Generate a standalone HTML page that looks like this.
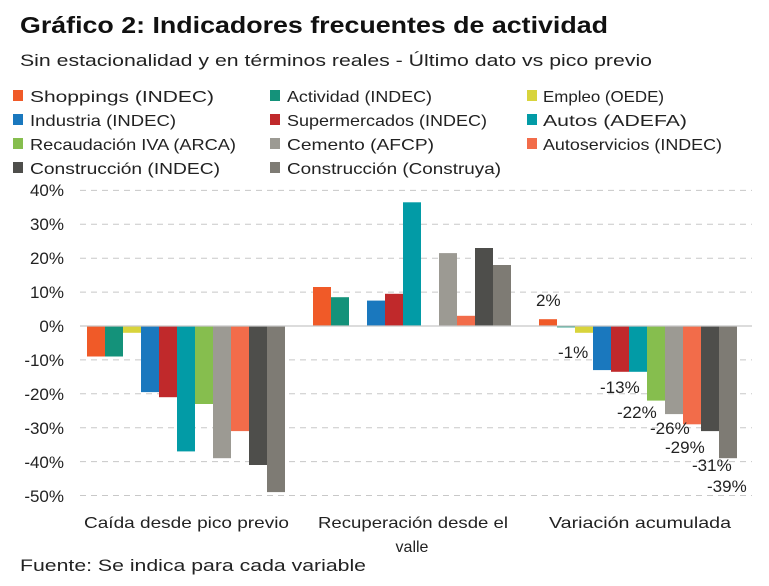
<!DOCTYPE html><html><head><meta charset="utf-8"><style>body{margin:0;background:#fff}svg{display:block;font-family:"Liberation Sans",sans-serif}</style></head><body>
<svg width="769" height="586" viewBox="0 0 769 586">
<text x="20" y="33" font-size="23" font-weight="bold" fill="#111" textLength="588" lengthAdjust="spacingAndGlyphs">Gráfico 2: Indicadores frecuentes de actividad</text>
<text x="20" y="66" font-size="17" fill="#222" textLength="632" lengthAdjust="spacingAndGlyphs">Sin estacionalidad y en términos reales - Último dato vs pico previo</text>
<g font-size="16" fill="#222">
<rect x="13" y="90" width="10" height="11" fill="#f05a28"/><text x="30" y="102" textLength="184" lengthAdjust="spacingAndGlyphs">Shoppings (INDEC)</text>
<rect x="270" y="90" width="10" height="11" fill="#14927a"/><text x="287" y="102" textLength="145" lengthAdjust="spacingAndGlyphs">Actividad (INDEC)</text>
<rect x="527" y="90" width="10" height="11" fill="#d8d43c"/><text x="543" y="102" textLength="121" lengthAdjust="spacingAndGlyphs">Empleo (OEDE)</text>
<rect x="13" y="114" width="10" height="11" fill="#1a78be"/><text x="30" y="126" textLength="146" lengthAdjust="spacingAndGlyphs">Industria (INDEC)</text>
<rect x="270" y="114" width="10" height="11" fill="#c0292b"/><text x="287" y="126" textLength="200" lengthAdjust="spacingAndGlyphs">Supermercados (INDEC)</text>
<rect x="527" y="114" width="10" height="11" fill="#029ba6"/><text x="543" y="126" textLength="144" lengthAdjust="spacingAndGlyphs">Autos (ADEFA)</text>
<rect x="13" y="138" width="10" height="11" fill="#86be4e"/><text x="30" y="150" textLength="206" lengthAdjust="spacingAndGlyphs">Recaudación IVA (ARCA)</text>
<rect x="270" y="138" width="10" height="11" fill="#9c9a93"/><text x="287" y="150" textLength="147" lengthAdjust="spacingAndGlyphs">Cemento (AFCP)</text>
<rect x="527" y="138" width="10" height="11" fill="#f26c4a"/><text x="543" y="150" textLength="179" lengthAdjust="spacingAndGlyphs">Autoservicios (INDEC)</text>
<rect x="13" y="162" width="10" height="11" fill="#4e4e4b"/><text x="30" y="174" textLength="190" lengthAdjust="spacingAndGlyphs">Construcción (INDEC)</text>
<rect x="270" y="162" width="10" height="11" fill="#7e7b74"/><text x="287" y="174" textLength="214" lengthAdjust="spacingAndGlyphs">Construcción (Construya)</text>
</g>
<g stroke="#c8c8c8" stroke-dasharray="6,5" stroke-width="1">
<line x1="80" x2="752" y1="190.4" y2="190.4"/><line x1="80" x2="752" y1="224.3" y2="224.3"/><line x1="80" x2="752" y1="258.2" y2="258.2"/><line x1="80" x2="752" y1="292.1" y2="292.1"/><line x1="80" x2="752" y1="359.9" y2="359.9"/><line x1="80" x2="752" y1="393.8" y2="393.8"/><line x1="80" x2="752" y1="427.7" y2="427.7"/><line x1="80" x2="752" y1="461.6" y2="461.6"/><line x1="80" x2="752" y1="495.5" y2="495.5"/>
</g>
<g font-size="17" fill="#222" text-anchor="end">
<text x="64" y="196">40%</text><text x="64" y="230">30%</text><text x="64" y="264">20%</text><text x="64" y="298">10%</text><text x="64" y="332">0%</text><text x="64" y="366">-10%</text><text x="64" y="400">-20%</text><text x="64" y="434">-30%</text><text x="64" y="468">-40%</text><text x="64" y="502">-50%</text>
</g>
<g>
<rect x="87" y="326" width="18" height="30.5" fill="#f05a28"/><rect x="105" y="326" width="18" height="30.5" fill="#14927a"/><rect x="123" y="326" width="18" height="6.8" fill="#d8d43c"/><rect x="141" y="326" width="18" height="66.1" fill="#1a78be"/><rect x="159" y="326" width="18" height="71.2" fill="#c0292b"/><rect x="177" y="326" width="18" height="125.4" fill="#029ba6"/><rect x="195" y="326" width="18" height="78" fill="#86be4e"/><rect x="213" y="326" width="18" height="132.2" fill="#9c9a93"/><rect x="231" y="326" width="18" height="105.1" fill="#f26c4a"/><rect x="249" y="326" width="18" height="139" fill="#4e4e4b"/><rect x="267" y="326" width="18" height="166.1" fill="#7e7b74"/>
<rect x="313" y="287" width="18" height="39" fill="#f05a28"/><rect x="331" y="297.2" width="18" height="28.8" fill="#14927a"/><rect x="367" y="300.6" width="18" height="25.4" fill="#1a78be"/><rect x="385" y="293.8" width="18" height="32.2" fill="#c0292b"/><rect x="403" y="202.3" width="18" height="123.7" fill="#029ba6"/><rect x="439" y="253.1" width="18" height="72.9" fill="#9c9a93"/><rect x="457" y="315.8" width="18" height="10.2" fill="#f26c4a"/><rect x="475" y="248" width="18" height="78" fill="#4e4e4b"/><rect x="493" y="265" width="18" height="61" fill="#7e7b74"/>
<rect x="539" y="319.2" width="18" height="6.8" fill="#f05a28"/><rect x="557" y="326" width="18" height="1.4" fill="#14927a"/><rect x="575" y="326" width="18" height="6.8" fill="#d8d43c"/><rect x="593" y="326" width="18" height="44.1" fill="#1a78be"/><rect x="611" y="326" width="18" height="45.8" fill="#c0292b"/><rect x="629" y="326" width="18" height="45.8" fill="#029ba6"/><rect x="647" y="326" width="18" height="74.6" fill="#86be4e"/><rect x="665" y="326" width="18" height="88.1" fill="#9c9a93"/><rect x="683" y="326" width="18" height="98.3" fill="#f26c4a"/><rect x="701" y="326" width="18" height="105.1" fill="#4e4e4b"/><rect x="719" y="326" width="18" height="132.2" fill="#7e7b74"/>
</g>
<line x1="80" x2="752" y1="326" y2="326" stroke="#c8c8c8" stroke-width="1.2"/>
<g font-size="17" fill="#222">
<text x="536" y="306">2%</text><text x="558" y="358">-1%</text><text x="600" y="393">-13%</text><text x="617" y="418">-22%</text><text x="650" y="434">-26%</text><text x="665" y="453">-29%</text><text x="692" y="471">-31%</text><text x="707" y="492">-39%</text>
</g>
<g font-size="16" fill="#222">
<text x="84" y="528" textLength="205" lengthAdjust="spacingAndGlyphs">Caída desde pico previo</text><text x="318" y="528" textLength="190" lengthAdjust="spacingAndGlyphs">Recuperación desde el</text><text x="412" y="552" text-anchor="middle">valle</text><text x="549" y="528" textLength="182" lengthAdjust="spacingAndGlyphs">Variación acumulada</text>
</g>
<text x="20" y="571" font-size="17" fill="#222" textLength="346" lengthAdjust="spacingAndGlyphs">Fuente: Se indica para cada variable</text>
</svg></body></html>
